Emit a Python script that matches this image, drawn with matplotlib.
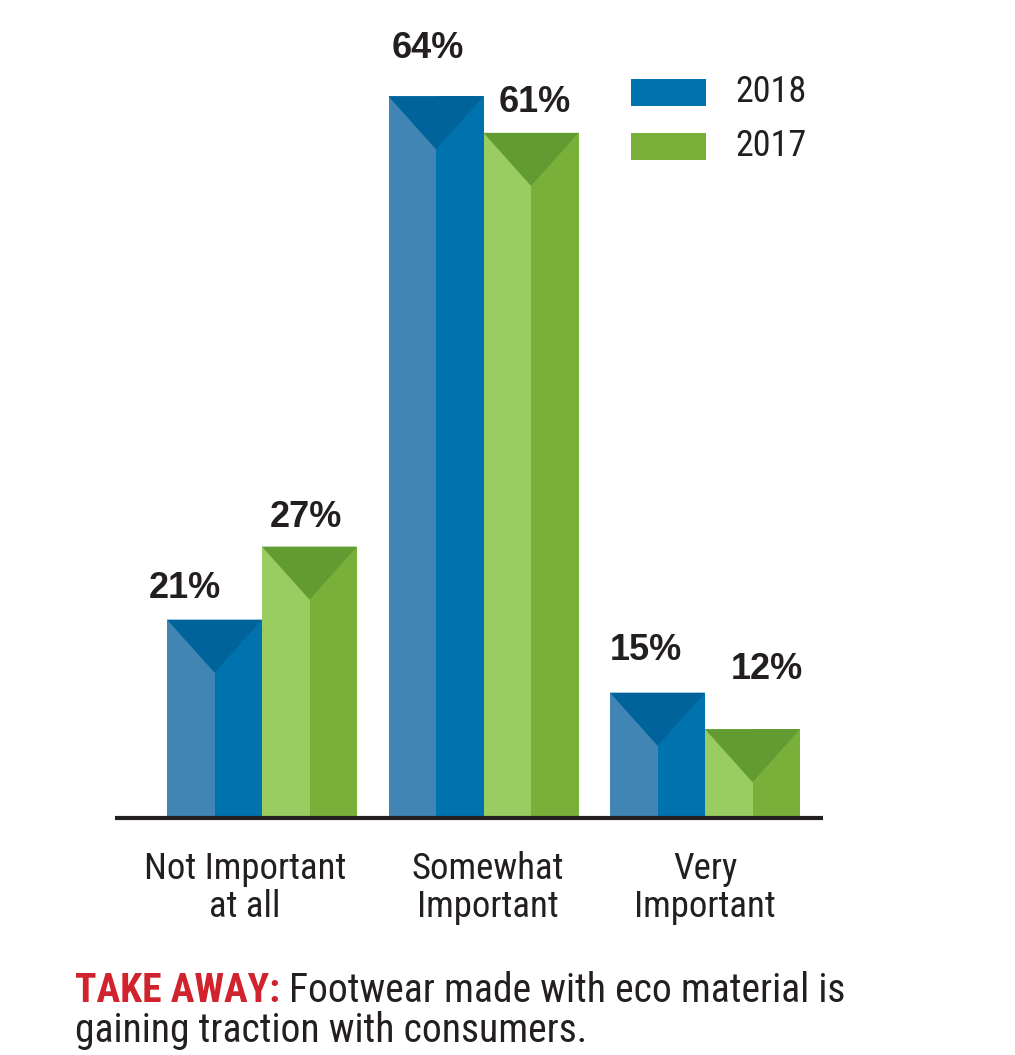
import matplotlib
matplotlib.use('Agg')
import matplotlib.pyplot as plt
from matplotlib.patches import Polygon
from matplotlib import font_manager

# data
categories = ['Not Important\nat all', 'Somewhat\nImportant', 'Very\nImportant']
years = ['2018', '2017']
vals_2018 = [21, 64, 15]
vals_2017 = [27, 61, 12]

names = {f.name for f in font_manager.fontManager.ttflist}
narrow, stretch = 'DejaVu Sans', 'condensed'
for cand in ['Liberation Sans Narrow', 'Roboto Condensed', 'Open Sans Condensed']:
    if cand in names:
        narrow, stretch = cand, 'normal'
        break
bold = ['Liberation Sans', 'DejaVu Sans']
txt = dict(family=narrow, fontstretch=stretch, color='#231f20')

# colours: (light half, main half, top triangle)
cols = {'2018': ('#4185b5', '#0072ad', '#00639a'),
        '2017': ('#99cc61', '#78b03a', '#639b33')}

W, H = 1015, 1055
fig = plt.figure(figsize=(W / 100, H / 100), dpi=100)
# axes spans the baseline line: x 115..823 px, baseline at y=818 px
ax = fig.add_axes([115 / W, 1 - 818 / H, (823 - 115) / W, 818 / H])
px_per_unit = 12.17           # pixels per percent
ybase = 4.7                   # truncated baseline
ax.set_ylim(ybase, ybase + 818 / px_per_unit)
gx = 221.5                    # pixels per category step
ax.set_xlim((115 - 262) / gx, (823 - 262) / gx)
ax.axis('off')

bw = 95 / gx
tri_d = 53 / px_per_unit
lab_dx = {'2018': [-30, -8, -12], '2017': [-4, 4, 14]}   # px nudges of value labels
lab_dy = {'2018': [22, 38, 33], '2017': [20, 21, 50]}

for k, (yr, vals) in enumerate([('2018', vals_2018), ('2017', vals_2017)]):
    light, main, dark = cols[yr]
    for i, v in enumerate(vals):
        left = i - bw if k == 0 else i
        ax.bar(left, v, width=bw / 2, align='edge', color=light, linewidth=0)
        ax.bar(left + bw / 2, v, width=bw / 2, align='edge', color=main, linewidth=0)
        ax.add_patch(Polygon([(left, v), (left + bw, v), (left + bw / 2, v - tri_d)],
                             closed=True, color=dark, linewidth=0))
        ax.annotate(f'{v}%', (left + bw / 2, v), xytext=(lab_dx[yr][i] * 0.72, lab_dy[yr][i] * 0.72),
                    textcoords='offset points', ha='center', va='baseline',
                    fontsize=26, fontweight='bold', family=bold, color='#231f20')

ax.plot([0, 1], [0, 0], transform=ax.transAxes, color='#231f20', lw=3, clip_on=False,
        solid_capstyle='butt')

cat_dx = [-17, 4, 0]
for i, c in enumerate(categories):
    ax.annotate(c, (i, ybase), xytext=(cat_dx[i] * 0.72, -24), textcoords='offset points',
                ha='center', va='top', fontsize=26.5, linespacing=1.05, **txt)

# legend
for j, yr in enumerate(years):
    y0 = 79 + j * 54
    fig.patches.append(plt.Rectangle((631 / W, 1 - (y0 + 27) / H), 75 / W, 27 / H,
                                     transform=fig.transFigure, color=cols[yr][1], lw=0))
    fig.text(735 / W, 1 - (y0 + 13.5) / H, yr, ha='left', va='center', fontsize=26, **txt)

# take away
t1 = fig.text(75 / W, 1 - 991 / H, 'TAKE AWAY:', ha='left', va='center', fontsize=28.5,
              fontweight='bold', **{**txt, 'color': '#d1232d'})
fig.canvas.draw()
bb = t1.get_window_extent()
fig.text(bb.x1 / W + 9 / W, 1 - 991 / H, 'Footwear made with eco material is', ha='left',
         va='center', fontsize=28.5, **txt)
fig.text(75 / W, 1 - 1030 / H, 'gaining traction with consumers.', ha='left', va='center',
         fontsize=28.5, **txt)

fig.savefig('out.png', dpi=100)
